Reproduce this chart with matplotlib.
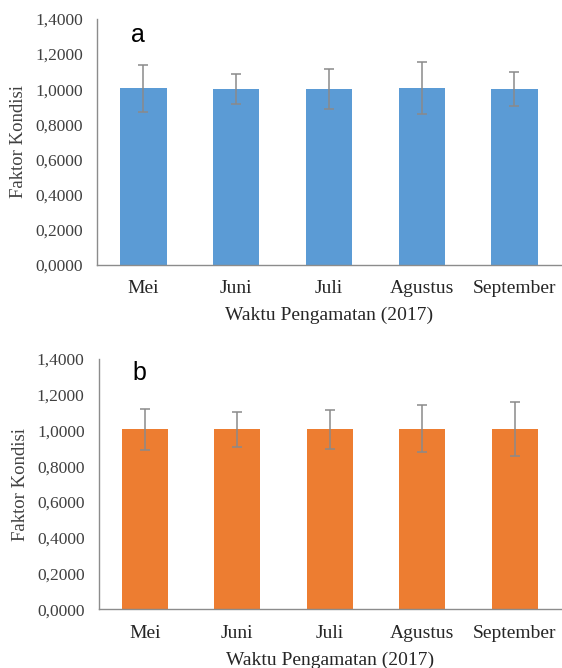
import matplotlib.pyplot as plt
import numpy as np

bulan = ["Mei", "Juni", "Juli", "Agustus", "September"]

# faktor kondisi rata-rata dan simpangan baku, panel a (biru) dan b (oranye)
fk_a = [1.005, 1.000, 1.000, 1.006, 1.000]
sd_a = [0.132, 0.085, 0.114, 0.149, 0.098]
fk_b = [1.007, 1.006, 1.006, 1.011, 1.011]
sd_b = [0.114, 0.097, 0.111, 0.131, 0.151]

yticks = [0.0, 0.2, 0.4, 0.6, 0.8, 1.0, 1.2, 1.4]

plt.rcParams['font.family'] = ['Liberation Serif', 'DejaVu Serif']

fig = plt.figure(figsize=(5.62, 6.68), dpi=100)
ax_a = fig.add_axes([0.1726, 0.6033, 0.8254, 0.3683])
ax_b = fig.add_axes([0.1753, 0.0879, 0.8227, 0.3747])

panels = [(ax_a, fk_a, sd_a, "#5B9BD5", "a", 0.935),
          (ax_b, fk_b, sd_b, "#ED7D31", "b", 0.945)]

for ax, fk, sd, warna, huruf, ty in panels:
    x = np.arange(len(bulan))
    ax.bar(x, fk, width=0.5, color=warna, zorder=2)
    ax.errorbar(x, fk, yerr=sd, fmt="none", ecolor="#8a8a8a",
                elinewidth=1.1, capsize=3.5, capthick=1.1, zorder=3)
    ax.set_xlim(-0.5, len(bulan) - 0.5)
    ax.set_ylim(0, 1.4)
    ax.set_yticks(yticks)
    ax.set_yticklabels([f"{v:.4f}".replace(".", ",") for v in yticks],
                       fontsize=12.5, color="#404040")
    ax.set_xticks(x)
    ax.set_xticklabels(bulan, fontsize=14, color="#262626")
    ax.tick_params(axis="both", length=0)
    ax.tick_params(axis="y", pad=10)
    ax.tick_params(axis="x", pad=11)
    for s in ["top", "right"]:
        ax.spines[s].set_visible(False)
    for s in ["left", "bottom"]:
        ax.spines[s].set_color("#8c8c8c")
        ax.spines[s].set_linewidth(1.0)
    ax.set_ylabel("Faktor Kondisi", fontsize=13.5, color="#404040", labelpad=6)
    ax.set_xlabel("Waktu Pengamatan (2017)", fontsize=14, color="#262626",
                  labelpad=7)
    ax.text(0.089, ty, huruf, transform=ax.transAxes, fontsize=18,
            family="Liberation Sans", ha="center", va="center")

fig.savefig("out.png", dpi=100)
